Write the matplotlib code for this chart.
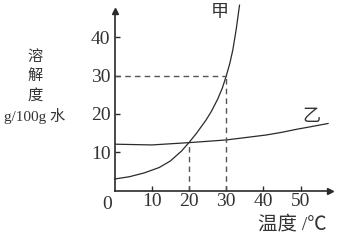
import numpy as np
import matplotlib
matplotlib.use("Agg")
import matplotlib.pyplot as plt

plt.rcParams['font.family'] = ['Liberation Serif', 'Noto Sans CJK SC']

# 甲 solubility curve
jia_t = [0, 4, 8, 12, 15, 18, 20, 22, 24.6, 26, 27.7, 29, 30, 31, 31.8, 32.7, 33.6]
jia_s = [3.0, 3.6, 4.6, 6.0, 7.7, 10.3, 12.5, 14.9, 18.4, 20.6, 23.8, 26.8, 29.8, 33.2, 36.7, 42.0, 48.4]

# 乙 solubility curve
yi_t = [0, 10, 20, 30, 35, 40.8, 45, 49, 53, 57.4]
yi_s = [12.1, 11.9, 12.5, 13.2, 13.8, 14.5, 15.2, 16.0, 16.7, 17.5]

xticks = [10, 20, 30, 40, 50]
yticks = [10, 20, 30, 40]

ink = '#2a2a2a'

fig = plt.figure(figsize=(3.4, 2.43), dpi=100)
ax = fig.add_axes([0.3368, 0.216, 0.6346, 0.7407])
xmax, ymax = 58, 47
ax.set_xlim(0, xmax)
ax.set_ylim(0, ymax)

ax.plot(jia_t, jia_s, color=ink, lw=0.9, clip_on=False)
ax.plot(yi_t, yi_s, color=ink, lw=0.9)

# guide lines
dash = dict(color='#555555', lw=1.0, ls=(0, (4, 3)))
ax.plot([0, 30], [30, 30], **dash)
ax.plot([30, 30], [0, 30], **dash)
ax.plot([20, 20], [0, 12.5], **dash)

for s in ['top', 'right']:
    ax.spines[s].set_visible(False)
for s in ['left', 'bottom']:
    ax.spines[s].set_color(ink)
    ax.spines[s].set_linewidth(1.2)

ax.plot([0], [ymax], marker='^', color=ink, ms=5, clip_on=False)
ax.plot([xmax], [0], marker='>', color=ink, ms=5, clip_on=False)

ax.set_xticks(xticks)
ax.set_yticks(yticks)
ax.tick_params(direction='in', length=3.6, width=1.0, color=ink,
               labelsize=14, labelcolor='#333333')
ax.tick_params(axis='x', pad=2)
ax.tick_params(axis='y', pad=3)
ax.annotate('0', (0, 0), xytext=(-5, -4), textcoords='offset points',
            ha='center', va='top', fontsize=14, color='#333333')


# pixel coordinates measured from the top edge
def px(x, y):
    return x / 340, 1 - y / 243


ax.text(*px(220, 12), '甲', transform=fig.transFigure, fontsize=13,
        color='#333333', ha='center', va='center')
ax.text(*px(311, 116), '乙', transform=fig.transFigure, fontsize=13,
        color='#333333', ha='center', va='center')
ax.text(*px(292, 224), '温度 /℃', transform=fig.transFigure, fontsize=14,
        color='#333333', ha='center', va='center')
for i, line in enumerate(['溶', '解', '度', 'g/100g 水']):
    ax.text(*px(35, 57 + i * 19.5), line, transform=fig.transFigure,
            fontsize=11, color='#333333', ha='center', va='center')

fig.savefig('out.png', dpi=100)
